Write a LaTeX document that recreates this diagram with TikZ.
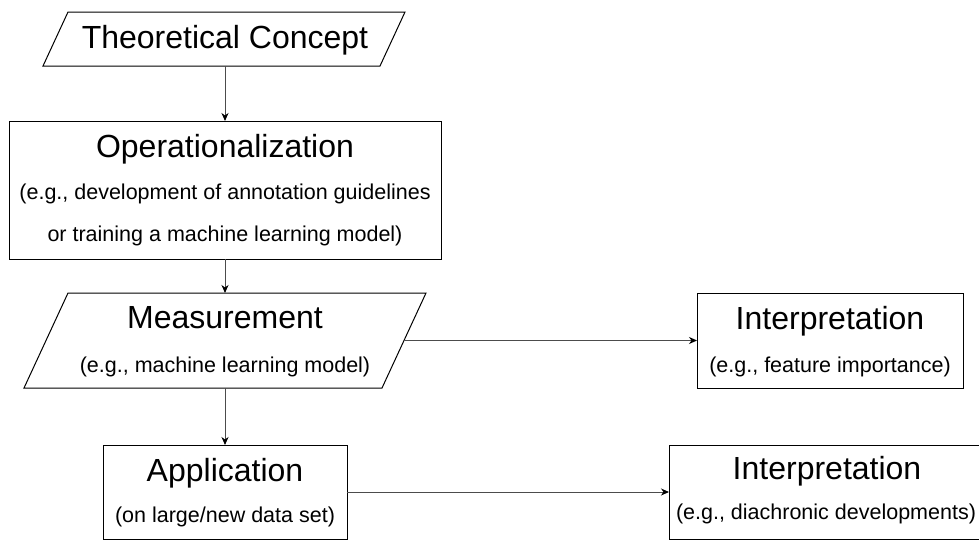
\documentclass[tikz,border=0pt]{standalone}
\usepackage{fontspec}
\setmainfont{Liberation Sans}
\usetikzlibrary{arrows.meta}
\begin{document}
\begin{tikzpicture}[x=1pt,y=-1pt,
  box/.style={draw=black, line width=1pt, rectangle, inner sep=0pt, outer sep=0pt},
  paraline/.style={draw=black, line width=1pt, line join=miter},
  title/.style={font=\fontsize{32}{38}\selectfont, anchor=base, inner sep=0pt},
  sub/.style={font=\fontsize{21.5}{26}\selectfont, anchor=base, inner sep=0pt},
  arr/.style={draw=black!70, line width=1pt, -{Stealth[length=8pt,width=7pt,inset=2.5pt,color=black]}}
]
\useasboundingbox (0,0) rectangle (979,541);

% parallelograms
\draw[paraline] (68,12) -- (405,12) -- (380,66) -- (43,66) -- cycle;
\coordinate (tcS) at (225,66);
\draw[paraline] (68,293) -- (426,293) -- (382,388) -- (24,388) -- cycle;
\coordinate (measN) at (225,293);
\coordinate (measE) at (404,340.5);
\coordinate (measS) at (225,388);

% boxes
\node[box, minimum width=432pt, minimum height=138pt] (op) at (225,190) {};
\node[box, minimum width=266pt, minimum height=95pt] (int1) at (830,340.5) {};
\node[box, minimum width=244pt, minimum height=94pt] (app) at (225,492) {};
\node[box, minimum width=320pt, minimum height=94pt] (int2) at (829,492) {};

% texts
\node[title] (tcT) at (225,48) {Theoretical Concept};
\node[title] (opT) at (225,157) {Operationalization};
\node[sub] (opS1) at (225,199) {(e.g., development of annotation guidelines};
\node[sub] (opS2) at (225,241) {or training a machine learning model)};
\node[title] (measT) at (225,328) {Measurement};
\node[sub] (measS1) at (225,372) {(e.g., machine learning model)};
\node[title] (int1T) at (830,329) {Interpretation};
\node[sub] (int1S) at (830,372) {(e.g., feature importance)};
\node[title] (appT) at (225,481) {Application};
\node[sub] (appS) at (225,522) {(on large/new data set)};
\node[title] (int2T) at (827,479) {Interpretation};
\node[sub] (int2S) at (826,519) {(e.g., diachronic developments)};

% connectors
\draw[arr] (tcS) -- (tcS |- op.north);
\draw[arr] (op.south) -- (measN);
\draw[arr] (measE) -- (int1.west |- measE);
\draw[arr] (measS) -- (measS |- app.north);
\draw[arr] (app.east) -- (int2.west |- app.east);
\end{tikzpicture}
\end{document}
